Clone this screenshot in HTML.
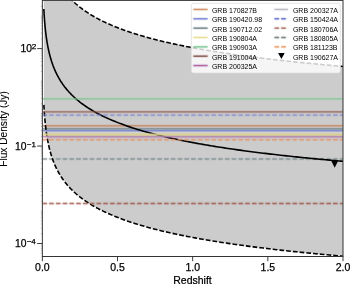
<!DOCTYPE html>
<html><head><meta charset="utf-8"><style>
html,body{margin:0;padding:0;background:#fff;overflow:hidden;}
svg{display:block;font-family:"Liberation Sans",sans-serif;will-change:transform;} text{stroke:#000;stroke-width:0.25px;}
</style></head><body>
<svg width="350" height="284" viewBox="0 0 350 284">
<defs><filter id="bl" filterUnits="userSpaceOnUse" x="0" y="0" width="350" height="284"><feConvolveMatrix order="3" kernelMatrix="0.0192 0.1001 0.0192 0.1001 0.5228 0.1001 0.0192 0.1001 0.0192" edgeMode="none"/></filter><clipPath id="ax"><rect x="42.35" y="0.40" width="300.65" height="256.10"/></clipPath></defs>
<rect width="350" height="284" fill="#fff"/>
<g clip-path="url(#ax)">
<path d="M43.82,-85.83 L43.84,-85.29 L43.87,-84.76 L43.90,-84.22 L43.93,-83.68 L43.96,-83.14 L43.99,-82.61 L44.02,-82.07 L44.06,-81.53 L44.09,-80.99 L44.12,-80.45 L44.16,-79.92 L44.19,-79.38 L44.23,-78.84 L44.26,-78.30 L44.30,-77.76 L44.34,-77.23 L44.37,-76.69 L44.41,-76.15 L44.45,-75.61 L44.49,-75.07 L44.53,-74.53 L44.58,-74.00 L44.62,-73.46 L44.66,-72.92 L44.71,-72.38 L44.75,-71.84 L44.80,-71.30 L44.85,-70.76 L44.89,-70.23 L44.94,-69.69 L44.99,-69.15 L45.04,-68.61 L45.09,-68.07 L45.15,-67.53 L45.20,-66.99 L45.25,-66.45 L45.31,-65.91 L45.37,-65.38 L45.43,-64.84 L45.48,-64.30 L45.54,-63.76 L45.61,-63.22 L45.67,-62.68 L45.73,-62.14 L45.80,-61.60 L45.86,-61.06 L45.93,-60.52 L46.00,-59.98 L46.07,-59.44 L46.14,-58.90 L46.21,-58.36 L46.29,-57.82 L46.36,-57.28 L46.44,-56.74 L46.52,-56.20 L46.60,-55.66 L46.68,-55.12 L46.76,-54.58 L46.85,-54.04 L46.93,-53.50 L47.02,-52.96 L47.11,-52.42 L47.20,-51.88 L47.29,-51.33 L47.39,-50.79 L47.49,-50.25 L47.58,-49.71 L47.69,-49.17 L47.79,-48.63 L47.89,-48.09 L48.00,-47.54 L48.11,-47.00 L48.22,-46.46 L48.33,-45.92 L48.44,-45.38 L48.56,-44.84 L48.68,-44.29 L48.80,-43.75 L48.93,-43.21 L49.05,-42.67 L49.18,-42.12 L49.31,-41.58 L49.44,-41.04 L49.58,-40.49 L49.72,-39.95 L49.86,-39.41 L50.00,-38.86 L50.15,-38.32 L50.30,-37.78 L50.45,-37.23 L50.61,-36.69 L50.77,-36.15 L50.93,-35.60 L51.09,-35.06 L51.26,-34.51 L51.43,-33.97 L51.61,-33.42 L51.78,-32.88 L51.97,-32.33 L52.15,-31.79 L52.34,-31.24 L52.53,-30.70 L52.72,-30.15 L52.92,-29.61 L53.13,-29.06 L53.33,-28.51 L53.54,-27.97 L53.76,-27.42 L53.98,-26.88 L54.20,-26.33 L54.43,-25.78 L54.66,-25.23 L54.90,-24.69 L55.14,-24.14 L55.38,-23.59 L55.63,-23.05 L55.89,-22.50 L56.15,-21.95 L56.41,-21.40 L56.68,-20.85 L56.95,-20.30 L57.23,-19.76 L57.52,-19.21 L57.81,-18.66 L58.11,-18.11 L58.41,-17.56 L58.72,-17.01 L59.03,-16.46 L59.35,-15.91 L59.68,-15.36 L60.01,-14.81 L60.35,-14.26 L60.69,-13.71 L61.05,-13.15 L61.41,-12.60 L61.77,-12.05 L62.14,-11.50 L62.52,-10.95 L62.91,-10.40 L63.30,-9.84 L63.71,-9.29 L64.12,-8.74 L64.53,-8.19 L64.96,-7.63 L65.39,-7.08 L65.83,-6.53 L66.29,-5.97 L66.74,-5.42 L67.21,-4.86 L67.69,-4.31 L68.18,-3.75 L68.67,-3.20 L69.18,-2.64 L69.69,-2.09 L70.21,-1.53 L70.75,-0.98 L71.29,-0.42 L71.85,0.13 L72.41,0.69 L74.36,2.53 L76.31,4.26 L78.25,5.90 L80.20,7.45 L82.15,8.92 L84.09,10.33 L86.04,11.67 L87.99,12.95 L89.93,14.19 L91.88,15.37 L93.83,16.50 L95.77,17.60 L97.72,18.65 L99.67,19.67 L101.61,20.66 L103.56,21.61 L105.51,22.53 L107.45,23.43 L109.40,24.30 L111.35,25.14 L113.29,25.96 L115.24,26.75 L117.19,27.53 L119.13,28.28 L121.08,29.02 L123.03,29.74 L124.97,30.43 L126.92,31.12 L128.87,31.78 L130.81,32.43 L132.76,33.07 L134.71,33.69 L136.65,34.30 L138.60,34.90 L140.55,35.48 L142.49,36.05 L144.44,36.61 L146.39,37.16 L148.33,37.70 L150.28,38.23 L152.23,38.74 L154.17,39.25 L156.12,39.75 L158.07,40.24 L160.01,40.72 L161.96,41.19 L163.91,41.66 L165.85,42.11 L167.80,42.56 L169.75,43.00 L171.69,43.44 L173.64,43.86 L175.59,44.28 L177.53,44.70 L179.48,45.11 L181.43,45.51 L183.37,45.90 L185.32,46.29 L187.27,46.67 L189.21,47.05 L191.16,47.42 L193.11,47.79 L195.05,48.15 L197.00,48.51 L198.95,48.86 L200.89,49.21 L202.84,49.55 L204.79,49.89 L206.73,50.22 L208.68,50.55 L210.63,50.87 L212.57,51.19 L214.52,51.51 L216.47,51.82 L218.41,52.13 L220.36,52.43 L222.31,52.74 L224.25,53.03 L226.20,53.33 L228.15,53.62 L230.09,53.90 L232.04,54.19 L233.99,54.47 L235.93,54.75 L237.88,55.02 L239.83,55.29 L241.77,55.56 L243.72,55.82 L245.67,56.09 L247.61,56.34 L249.56,56.60 L251.51,56.85 L253.45,57.11 L255.40,57.35 L257.35,57.60 L259.29,57.84 L261.24,58.08 L263.19,58.32 L265.13,58.56 L267.08,58.79 L269.03,59.02 L270.97,59.25 L272.92,59.48 L274.87,59.71 L276.81,59.93 L278.76,60.15 L280.71,60.37 L282.65,60.58 L284.60,60.80 L286.55,61.01 L288.49,61.22 L290.44,61.43 L292.39,61.64 L294.33,61.84 L296.28,62.05 L298.23,62.25 L300.17,62.45 L302.12,62.64 L304.07,62.84 L306.01,63.03 L307.96,63.23 L309.91,63.42 L311.85,63.61 L313.80,63.80 L315.75,63.98 L317.69,64.17 L319.64,64.35 L321.59,64.53 L323.53,64.71 L325.48,64.89 L327.43,65.07 L329.37,65.25 L331.32,65.42 L333.27,65.60 L335.21,65.77 L337.16,65.94 L339.11,66.11 L341.05,66.28 L343.00,66.44 L343.00,256.19 L341.05,256.02 L339.11,255.86 L337.16,255.69 L335.21,255.52 L333.27,255.34 L331.32,255.17 L329.37,255.00 L327.43,254.82 L325.48,254.64 L323.53,254.46 L321.59,254.28 L319.64,254.10 L317.69,253.92 L315.75,253.73 L313.80,253.54 L311.85,253.36 L309.91,253.17 L307.96,252.98 L306.01,252.78 L304.07,252.59 L302.12,252.39 L300.17,252.19 L298.23,251.99 L296.28,251.79 L294.33,251.59 L292.39,251.39 L290.44,251.18 L288.49,250.97 L286.55,250.76 L284.60,250.55 L282.65,250.33 L280.71,250.12 L278.76,249.90 L276.81,249.68 L274.87,249.45 L272.92,249.23 L270.97,249.00 L269.03,248.77 L267.08,248.54 L265.13,248.31 L263.19,248.07 L261.24,247.83 L259.29,247.59 L257.35,247.35 L255.40,247.10 L253.45,246.85 L251.51,246.60 L249.56,246.35 L247.61,246.09 L245.67,245.83 L243.72,245.57 L241.77,245.31 L239.83,245.04 L237.88,244.77 L235.93,244.49 L233.99,244.22 L232.04,243.94 L230.09,243.65 L228.15,243.37 L226.20,243.07 L224.25,242.78 L222.31,242.48 L220.36,242.18 L218.41,241.88 L216.47,241.57 L214.52,241.26 L212.57,240.94 L210.63,240.62 L208.68,240.30 L206.73,239.97 L204.79,239.63 L202.84,239.30 L200.89,238.95 L198.95,238.61 L197.00,238.26 L195.05,237.90 L193.11,237.54 L191.16,237.17 L189.21,236.80 L187.27,236.42 L185.32,236.04 L183.37,235.65 L181.43,235.25 L179.48,234.85 L177.53,234.45 L175.59,234.03 L173.64,233.61 L171.69,233.19 L169.75,232.75 L167.80,232.31 L165.85,231.86 L163.91,231.41 L161.96,230.94 L160.01,230.47 L158.07,229.99 L156.12,229.50 L154.17,229.00 L152.23,228.49 L150.28,227.97 L148.33,227.45 L146.39,226.91 L144.44,226.36 L142.49,225.80 L140.55,225.23 L138.60,224.65 L136.65,224.05 L134.71,223.44 L132.76,222.82 L130.81,222.18 L128.87,221.53 L126.92,220.87 L124.97,220.18 L123.03,219.48 L121.08,218.77 L119.13,218.03 L117.19,217.28 L115.24,216.50 L113.29,215.71 L111.35,214.89 L109.40,214.04 L107.45,213.18 L105.51,212.28 L103.56,211.36 L101.61,210.41 L99.67,209.42 L97.72,208.40 L95.77,207.35 L93.83,206.25 L91.88,205.12 L89.93,203.93 L87.99,202.70 L86.04,201.42 L84.09,200.08 L82.15,198.67 L80.20,197.20 L78.25,195.65 L76.31,194.01 L74.36,192.28 L72.41,190.44 L71.85,189.88 L71.29,189.33 L70.75,188.77 L70.21,188.21 L69.69,187.66 L69.18,187.10 L68.67,186.55 L68.18,185.99 L67.69,185.44 L67.21,184.89 L66.74,184.33 L66.29,183.78 L65.83,183.22 L65.39,182.67 L64.96,182.12 L64.53,181.56 L64.12,181.01 L63.71,180.46 L63.30,179.90 L62.91,179.35 L62.52,178.80 L62.14,178.25 L61.77,177.70 L61.41,177.14 L61.05,176.59 L60.69,176.04 L60.35,175.49 L60.01,174.94 L59.68,174.39 L59.35,173.84 L59.03,173.29 L58.72,172.74 L58.41,172.19 L58.11,171.64 L57.81,171.09 L57.52,170.54 L57.23,169.99 L56.95,169.44 L56.68,168.90 L56.41,168.35 L56.15,167.80 L55.89,167.25 L55.63,166.70 L55.38,166.16 L55.14,165.61 L54.90,165.06 L54.66,164.51 L54.43,163.97 L54.20,163.42 L53.98,162.87 L53.76,162.33 L53.54,161.78 L53.33,161.23 L53.13,160.69 L52.92,160.14 L52.72,159.60 L52.53,159.05 L52.34,158.50 L52.15,157.96 L51.97,157.41 L51.78,156.87 L51.61,156.32 L51.43,155.78 L51.26,155.24 L51.09,154.69 L50.93,154.15 L50.77,153.60 L50.61,153.06 L50.45,152.51 L50.30,151.97 L50.15,151.43 L50.00,150.88 L49.86,150.34 L49.72,149.80 L49.58,149.25 L49.44,148.71 L49.31,148.17 L49.18,147.63 L49.05,147.08 L48.93,146.54 L48.80,146.00 L48.68,145.46 L48.56,144.91 L48.44,144.37 L48.33,143.83 L48.22,143.29 L48.11,142.75 L48.00,142.20 L47.89,141.66 L47.79,141.12 L47.69,140.58 L47.58,140.04 L47.49,139.50 L47.39,138.96 L47.29,138.41 L47.20,137.87 L47.11,137.33 L47.02,136.79 L46.93,136.25 L46.85,135.71 L46.76,135.17 L46.68,134.63 L46.60,134.09 L46.52,133.55 L46.44,133.01 L46.36,132.47 L46.29,131.93 L46.21,131.39 L46.14,130.85 L46.07,130.31 L46.00,129.77 L45.93,129.23 L45.86,128.69 L45.80,128.15 L45.73,127.61 L45.67,127.07 L45.61,126.53 L45.54,125.99 L45.48,125.45 L45.43,124.91 L45.37,124.37 L45.31,123.83 L45.25,123.29 L45.20,122.76 L45.15,122.22 L45.09,121.68 L45.04,121.14 L44.99,120.60 L44.94,120.06 L44.89,119.52 L44.85,118.98 L44.80,118.44 L44.75,117.91 L44.71,117.37 L44.66,116.83 L44.62,116.29 L44.58,115.75 L44.53,115.21 L44.49,114.68 L44.45,114.14 L44.41,113.60 L44.37,113.06 L44.34,112.52 L44.30,111.98 L44.26,111.45 L44.23,110.91 L44.19,110.37 L44.16,109.83 L44.12,109.29 L44.09,108.76 L44.06,108.22 L44.02,107.68 L43.99,107.14 L43.96,106.60 L43.93,106.07 L43.90,105.53 L43.87,104.99 L43.84,104.45 L43.82,103.92 Z" fill="#cccccc"/>
<g filter="url(#bl)">
<line x1="42.35" y1="125.70" x2="343.00" y2="125.70" stroke="#c6845e" stroke-width="1.40"/>
<line x1="42.35" y1="128.70" x2="343.00" y2="128.70" stroke="#74898e" stroke-width="1.40"/>
<line x1="42.35" y1="130.80" x2="343.00" y2="130.80" stroke="#7882d0" stroke-width="1.40"/>
<line x1="42.35" y1="132.60" x2="343.00" y2="132.60" stroke="#d8d8dc" stroke-width="1.40"/>
<line x1="42.35" y1="159.00" x2="343.00" y2="159.00" stroke="#7e8c8e" stroke-width="1.40" stroke-dasharray="4.72 2.04"/>
</g>
<path d="M43.82,9.01 L43.84,9.55 L43.87,10.09 L43.90,10.63 L43.93,11.16 L43.96,11.70 L43.99,12.24 L44.02,12.78 L44.06,13.31 L44.09,13.85 L44.12,14.39 L44.16,14.93 L44.19,15.47 L44.23,16.00 L44.26,16.54 L44.30,17.08 L44.34,17.62 L44.37,18.16 L44.41,18.70 L44.45,19.23 L44.49,19.77 L44.53,20.31 L44.58,20.85 L44.62,21.39 L44.66,21.93 L44.71,22.46 L44.75,23.00 L44.80,23.54 L44.85,24.08 L44.89,24.62 L44.94,25.16 L44.99,25.70 L45.04,26.24 L45.09,26.77 L45.15,27.31 L45.20,27.85 L45.25,28.39 L45.31,28.93 L45.37,29.47 L45.43,30.01 L45.48,30.55 L45.54,31.09 L45.61,31.63 L45.67,32.17 L45.73,32.71 L45.80,33.25 L45.86,33.78 L45.93,34.32 L46.00,34.86 L46.07,35.40 L46.14,35.94 L46.21,36.48 L46.29,37.02 L46.36,37.56 L46.44,38.10 L46.52,38.64 L46.60,39.18 L46.68,39.73 L46.76,40.27 L46.85,40.81 L46.93,41.35 L47.02,41.89 L47.11,42.43 L47.20,42.97 L47.29,43.51 L47.39,44.05 L47.49,44.59 L47.58,45.13 L47.69,45.68 L47.79,46.22 L47.89,46.76 L48.00,47.30 L48.11,47.84 L48.22,48.38 L48.33,48.93 L48.44,49.47 L48.56,50.01 L48.68,50.55 L48.80,51.09 L48.93,51.64 L49.05,52.18 L49.18,52.72 L49.31,53.26 L49.44,53.81 L49.58,54.35 L49.72,54.89 L49.86,55.44 L50.00,55.98 L50.15,56.52 L50.30,57.07 L50.45,57.61 L50.61,58.16 L50.77,58.70 L50.93,59.24 L51.09,59.79 L51.26,60.33 L51.43,60.88 L51.61,61.42 L51.78,61.97 L51.97,62.51 L52.15,63.06 L52.34,63.60 L52.53,64.15 L52.72,64.69 L52.92,65.24 L53.13,65.78 L53.33,66.33 L53.54,66.88 L53.76,67.42 L53.98,67.97 L54.20,68.52 L54.43,69.06 L54.66,69.61 L54.90,70.16 L55.14,70.70 L55.38,71.25 L55.63,71.80 L55.89,72.35 L56.15,72.90 L56.41,73.44 L56.68,73.99 L56.95,74.54 L57.23,75.09 L57.52,75.64 L57.81,76.19 L58.11,76.74 L58.41,77.29 L58.72,77.84 L59.03,78.39 L59.35,78.94 L59.68,79.49 L60.01,80.04 L60.35,80.59 L60.69,81.14 L61.05,81.69 L61.41,82.24 L61.77,82.79 L62.14,83.34 L62.52,83.90 L62.91,84.45 L63.30,85.00 L63.71,85.55 L64.12,86.11 L64.53,86.66 L64.96,87.21 L65.39,87.77 L65.83,88.32 L66.29,88.87 L66.74,89.43 L67.21,89.98 L67.69,90.54 L68.18,91.09 L68.67,91.65 L69.18,92.20 L69.69,92.76 L70.21,93.31 L70.75,93.87 L71.29,94.42 L71.85,94.98 L72.41,95.54 L74.36,97.37 L76.31,99.11 L78.25,100.74 L80.20,102.29 L82.15,103.77 L84.09,105.17 L86.04,106.52 L87.99,107.80 L89.93,109.03 L91.88,110.21 L93.83,111.35 L95.77,112.44 L97.72,113.50 L99.67,114.52 L101.61,115.50 L103.56,116.46 L105.51,117.38 L107.45,118.27 L109.40,119.14 L111.35,119.98 L113.29,120.80 L115.24,121.60 L117.19,122.37 L119.13,123.13 L121.08,123.86 L123.03,124.58 L124.97,125.28 L126.92,125.96 L128.87,126.63 L130.81,127.28 L132.76,127.92 L134.71,128.54 L136.65,129.15 L138.60,129.74 L140.55,130.33 L142.49,130.90 L144.44,131.46 L146.39,132.01 L148.33,132.54 L150.28,133.07 L152.23,133.59 L154.17,134.10 L156.12,134.60 L158.07,135.08 L160.01,135.57 L161.96,136.04 L163.91,136.50 L165.85,136.96 L167.80,137.41 L169.75,137.85 L171.69,138.28 L173.64,138.71 L175.59,139.13 L177.53,139.54 L179.48,139.95 L181.43,140.35 L183.37,140.75 L185.32,141.13 L187.27,141.52 L189.21,141.90 L191.16,142.27 L193.11,142.63 L195.05,143.00 L197.00,143.35 L198.95,143.70 L200.89,144.05 L202.84,144.39 L204.79,144.73 L206.73,145.06 L208.68,145.39 L210.63,145.72 L212.57,146.04 L214.52,146.35 L216.47,146.67 L218.41,146.97 L220.36,147.28 L222.31,147.58 L224.25,147.88 L226.20,148.17 L228.15,148.46 L230.09,148.75 L232.04,149.03 L233.99,149.31 L235.93,149.59 L237.88,149.86 L239.83,150.13 L241.77,150.40 L243.72,150.67 L245.67,150.93 L247.61,151.19 L249.56,151.45 L251.51,151.70 L253.45,151.95 L255.40,152.20 L257.35,152.45 L259.29,152.69 L261.24,152.93 L263.19,153.17 L265.13,153.40 L267.08,153.64 L269.03,153.87 L270.97,154.10 L272.92,154.33 L274.87,154.55 L276.81,154.77 L278.76,154.99 L280.71,155.21 L282.65,155.43 L284.60,155.64 L286.55,155.86 L288.49,156.07 L290.44,156.28 L292.39,156.48 L294.33,156.69 L296.28,156.89 L298.23,157.09 L300.17,157.29 L302.12,157.49 L304.07,157.69 L306.01,157.88 L307.96,158.07 L309.91,158.26 L311.85,158.45 L313.80,158.64 L315.75,158.83 L317.69,159.01 L319.64,159.20 L321.59,159.38 L323.53,159.56 L325.48,159.74 L327.43,159.92 L329.37,160.09 L331.32,160.27 L333.27,160.44 L335.21,160.61 L337.16,160.78 L339.11,160.95 L341.05,161.12 L343.00,161.29" fill="none" stroke="#000" stroke-width="1.6"/>
<path d="M43.82,-85.83 L43.84,-85.29 L43.87,-84.76 L43.90,-84.22 L43.93,-83.68 L43.96,-83.14 L43.99,-82.61 L44.02,-82.07 L44.06,-81.53 L44.09,-80.99 L44.12,-80.45 L44.16,-79.92 L44.19,-79.38 L44.23,-78.84 L44.26,-78.30 L44.30,-77.76 L44.34,-77.23 L44.37,-76.69 L44.41,-76.15 L44.45,-75.61 L44.49,-75.07 L44.53,-74.53 L44.58,-74.00 L44.62,-73.46 L44.66,-72.92 L44.71,-72.38 L44.75,-71.84 L44.80,-71.30 L44.85,-70.76 L44.89,-70.23 L44.94,-69.69 L44.99,-69.15 L45.04,-68.61 L45.09,-68.07 L45.15,-67.53 L45.20,-66.99 L45.25,-66.45 L45.31,-65.91 L45.37,-65.38 L45.43,-64.84 L45.48,-64.30 L45.54,-63.76 L45.61,-63.22 L45.67,-62.68 L45.73,-62.14 L45.80,-61.60 L45.86,-61.06 L45.93,-60.52 L46.00,-59.98 L46.07,-59.44 L46.14,-58.90 L46.21,-58.36 L46.29,-57.82 L46.36,-57.28 L46.44,-56.74 L46.52,-56.20 L46.60,-55.66 L46.68,-55.12 L46.76,-54.58 L46.85,-54.04 L46.93,-53.50 L47.02,-52.96 L47.11,-52.42 L47.20,-51.88 L47.29,-51.33 L47.39,-50.79 L47.49,-50.25 L47.58,-49.71 L47.69,-49.17 L47.79,-48.63 L47.89,-48.09 L48.00,-47.54 L48.11,-47.00 L48.22,-46.46 L48.33,-45.92 L48.44,-45.38 L48.56,-44.84 L48.68,-44.29 L48.80,-43.75 L48.93,-43.21 L49.05,-42.67 L49.18,-42.12 L49.31,-41.58 L49.44,-41.04 L49.58,-40.49 L49.72,-39.95 L49.86,-39.41 L50.00,-38.86 L50.15,-38.32 L50.30,-37.78 L50.45,-37.23 L50.61,-36.69 L50.77,-36.15 L50.93,-35.60 L51.09,-35.06 L51.26,-34.51 L51.43,-33.97 L51.61,-33.42 L51.78,-32.88 L51.97,-32.33 L52.15,-31.79 L52.34,-31.24 L52.53,-30.70 L52.72,-30.15 L52.92,-29.61 L53.13,-29.06 L53.33,-28.51 L53.54,-27.97 L53.76,-27.42 L53.98,-26.88 L54.20,-26.33 L54.43,-25.78 L54.66,-25.23 L54.90,-24.69 L55.14,-24.14 L55.38,-23.59 L55.63,-23.05 L55.89,-22.50 L56.15,-21.95 L56.41,-21.40 L56.68,-20.85 L56.95,-20.30 L57.23,-19.76 L57.52,-19.21 L57.81,-18.66 L58.11,-18.11 L58.41,-17.56 L58.72,-17.01 L59.03,-16.46 L59.35,-15.91 L59.68,-15.36 L60.01,-14.81 L60.35,-14.26 L60.69,-13.71 L61.05,-13.15 L61.41,-12.60 L61.77,-12.05 L62.14,-11.50 L62.52,-10.95 L62.91,-10.40 L63.30,-9.84 L63.71,-9.29 L64.12,-8.74 L64.53,-8.19 L64.96,-7.63 L65.39,-7.08 L65.83,-6.53 L66.29,-5.97 L66.74,-5.42 L67.21,-4.86 L67.69,-4.31 L68.18,-3.75 L68.67,-3.20 L69.18,-2.64 L69.69,-2.09 L70.21,-1.53 L70.75,-0.98 L71.29,-0.42 L71.85,0.13 L72.41,0.69 L74.36,2.53 L76.31,4.26 L78.25,5.90 L80.20,7.45 L82.15,8.92 L84.09,10.33 L86.04,11.67 L87.99,12.95 L89.93,14.19 L91.88,15.37 L93.83,16.50 L95.77,17.60 L97.72,18.65 L99.67,19.67 L101.61,20.66 L103.56,21.61 L105.51,22.53 L107.45,23.43 L109.40,24.30 L111.35,25.14 L113.29,25.96 L115.24,26.75 L117.19,27.53 L119.13,28.28 L121.08,29.02 L123.03,29.74 L124.97,30.43 L126.92,31.12 L128.87,31.78 L130.81,32.43 L132.76,33.07 L134.71,33.69 L136.65,34.30 L138.60,34.90 L140.55,35.48 L142.49,36.05 L144.44,36.61 L146.39,37.16 L148.33,37.70 L150.28,38.23 L152.23,38.74 L154.17,39.25 L156.12,39.75 L158.07,40.24 L160.01,40.72 L161.96,41.19 L163.91,41.66 L165.85,42.11 L167.80,42.56 L169.75,43.00 L171.69,43.44 L173.64,43.86 L175.59,44.28 L177.53,44.70 L179.48,45.11 L181.43,45.51 L183.37,45.90 L185.32,46.29 L187.27,46.67 L189.21,47.05 L191.16,47.42 L193.11,47.79 L195.05,48.15 L197.00,48.51 L198.95,48.86 L200.89,49.21 L202.84,49.55 L204.79,49.89 L206.73,50.22 L208.68,50.55 L210.63,50.87 L212.57,51.19 L214.52,51.51 L216.47,51.82 L218.41,52.13 L220.36,52.43 L222.31,52.74 L224.25,53.03 L226.20,53.33 L228.15,53.62 L230.09,53.90 L232.04,54.19 L233.99,54.47 L235.93,54.75 L237.88,55.02 L239.83,55.29 L241.77,55.56 L243.72,55.82 L245.67,56.09 L247.61,56.34 L249.56,56.60 L251.51,56.85 L253.45,57.11 L255.40,57.35 L257.35,57.60 L259.29,57.84 L261.24,58.08 L263.19,58.32 L265.13,58.56 L267.08,58.79 L269.03,59.02 L270.97,59.25 L272.92,59.48 L274.87,59.71 L276.81,59.93 L278.76,60.15 L280.71,60.37 L282.65,60.58 L284.60,60.80 L286.55,61.01 L288.49,61.22 L290.44,61.43 L292.39,61.64 L294.33,61.84 L296.28,62.05 L298.23,62.25 L300.17,62.45 L302.12,62.64 L304.07,62.84 L306.01,63.03 L307.96,63.23 L309.91,63.42 L311.85,63.61 L313.80,63.80 L315.75,63.98 L317.69,64.17 L319.64,64.35 L321.59,64.53 L323.53,64.71 L325.48,64.89 L327.43,65.07 L329.37,65.25 L331.32,65.42 L333.27,65.60 L335.21,65.77 L337.16,65.94 L339.11,66.11 L341.05,66.28 L343.00,66.44" fill="none" stroke="#000" stroke-width="1.6" stroke-dasharray="4.72 2.04" stroke-dashoffset="-1.3"/>
<path d="M43.82,103.92 L43.84,104.45 L43.87,104.99 L43.90,105.53 L43.93,106.07 L43.96,106.60 L43.99,107.14 L44.02,107.68 L44.06,108.22 L44.09,108.76 L44.12,109.29 L44.16,109.83 L44.19,110.37 L44.23,110.91 L44.26,111.45 L44.30,111.98 L44.34,112.52 L44.37,113.06 L44.41,113.60 L44.45,114.14 L44.49,114.68 L44.53,115.21 L44.58,115.75 L44.62,116.29 L44.66,116.83 L44.71,117.37 L44.75,117.91 L44.80,118.44 L44.85,118.98 L44.89,119.52 L44.94,120.06 L44.99,120.60 L45.04,121.14 L45.09,121.68 L45.15,122.22 L45.20,122.76 L45.25,123.29 L45.31,123.83 L45.37,124.37 L45.43,124.91 L45.48,125.45 L45.54,125.99 L45.61,126.53 L45.67,127.07 L45.73,127.61 L45.80,128.15 L45.86,128.69 L45.93,129.23 L46.00,129.77 L46.07,130.31 L46.14,130.85 L46.21,131.39 L46.29,131.93 L46.36,132.47 L46.44,133.01 L46.52,133.55 L46.60,134.09 L46.68,134.63 L46.76,135.17 L46.85,135.71 L46.93,136.25 L47.02,136.79 L47.11,137.33 L47.20,137.87 L47.29,138.41 L47.39,138.96 L47.49,139.50 L47.58,140.04 L47.69,140.58 L47.79,141.12 L47.89,141.66 L48.00,142.20 L48.11,142.75 L48.22,143.29 L48.33,143.83 L48.44,144.37 L48.56,144.91 L48.68,145.46 L48.80,146.00 L48.93,146.54 L49.05,147.08 L49.18,147.63 L49.31,148.17 L49.44,148.71 L49.58,149.25 L49.72,149.80 L49.86,150.34 L50.00,150.88 L50.15,151.43 L50.30,151.97 L50.45,152.51 L50.61,153.06 L50.77,153.60 L50.93,154.15 L51.09,154.69 L51.26,155.24 L51.43,155.78 L51.61,156.32 L51.78,156.87 L51.97,157.41 L52.15,157.96 L52.34,158.50 L52.53,159.05 L52.72,159.60 L52.92,160.14 L53.13,160.69 L53.33,161.23 L53.54,161.78 L53.76,162.33 L53.98,162.87 L54.20,163.42 L54.43,163.97 L54.66,164.51 L54.90,165.06 L55.14,165.61 L55.38,166.16 L55.63,166.70 L55.89,167.25 L56.15,167.80 L56.41,168.35 L56.68,168.90 L56.95,169.44 L57.23,169.99 L57.52,170.54 L57.81,171.09 L58.11,171.64 L58.41,172.19 L58.72,172.74 L59.03,173.29 L59.35,173.84 L59.68,174.39 L60.01,174.94 L60.35,175.49 L60.69,176.04 L61.05,176.59 L61.41,177.14 L61.77,177.70 L62.14,178.25 L62.52,178.80 L62.91,179.35 L63.30,179.90 L63.71,180.46 L64.12,181.01 L64.53,181.56 L64.96,182.12 L65.39,182.67 L65.83,183.22 L66.29,183.78 L66.74,184.33 L67.21,184.89 L67.69,185.44 L68.18,185.99 L68.67,186.55 L69.18,187.10 L69.69,187.66 L70.21,188.21 L70.75,188.77 L71.29,189.33 L71.85,189.88 L72.41,190.44 L74.36,192.28 L76.31,194.01 L78.25,195.65 L80.20,197.20 L82.15,198.67 L84.09,200.08 L86.04,201.42 L87.99,202.70 L89.93,203.93 L91.88,205.12 L93.83,206.25 L95.77,207.35 L97.72,208.40 L99.67,209.42 L101.61,210.41 L103.56,211.36 L105.51,212.28 L107.45,213.18 L109.40,214.04 L111.35,214.89 L113.29,215.71 L115.24,216.50 L117.19,217.28 L119.13,218.03 L121.08,218.77 L123.03,219.48 L124.97,220.18 L126.92,220.87 L128.87,221.53 L130.81,222.18 L132.76,222.82 L134.71,223.44 L136.65,224.05 L138.60,224.65 L140.55,225.23 L142.49,225.80 L144.44,226.36 L146.39,226.91 L148.33,227.45 L150.28,227.97 L152.23,228.49 L154.17,229.00 L156.12,229.50 L158.07,229.99 L160.01,230.47 L161.96,230.94 L163.91,231.41 L165.85,231.86 L167.80,232.31 L169.75,232.75 L171.69,233.19 L173.64,233.61 L175.59,234.03 L177.53,234.45 L179.48,234.85 L181.43,235.25 L183.37,235.65 L185.32,236.04 L187.27,236.42 L189.21,236.80 L191.16,237.17 L193.11,237.54 L195.05,237.90 L197.00,238.26 L198.95,238.61 L200.89,238.95 L202.84,239.30 L204.79,239.63 L206.73,239.97 L208.68,240.30 L210.63,240.62 L212.57,240.94 L214.52,241.26 L216.47,241.57 L218.41,241.88 L220.36,242.18 L222.31,242.48 L224.25,242.78 L226.20,243.07 L228.15,243.37 L230.09,243.65 L232.04,243.94 L233.99,244.22 L235.93,244.49 L237.88,244.77 L239.83,245.04 L241.77,245.31 L243.72,245.57 L245.67,245.83 L247.61,246.09 L249.56,246.35 L251.51,246.60 L253.45,246.85 L255.40,247.10 L257.35,247.35 L259.29,247.59 L261.24,247.83 L263.19,248.07 L265.13,248.31 L267.08,248.54 L269.03,248.77 L270.97,249.00 L272.92,249.23 L274.87,249.45 L276.81,249.68 L278.76,249.90 L280.71,250.12 L282.65,250.33 L284.60,250.55 L286.55,250.76 L288.49,250.97 L290.44,251.18 L292.39,251.39 L294.33,251.59 L296.28,251.79 L298.23,251.99 L300.17,252.19 L302.12,252.39 L304.07,252.59 L306.01,252.78 L307.96,252.98 L309.91,253.17 L311.85,253.36 L313.80,253.54 L315.75,253.73 L317.69,253.92 L319.64,254.10 L321.59,254.28 L323.53,254.46 L325.48,254.64 L327.43,254.82 L329.37,255.00 L331.32,255.17 L333.27,255.34 L335.21,255.52 L337.16,255.69 L339.11,255.86 L341.05,256.02 L343.00,256.19" fill="none" stroke="#000" stroke-width="1.6" stroke-dasharray="4.72 2.04" stroke-dashoffset="-1.0"/>
<g filter="url(#bl)">
<line x1="42.35" y1="98.90" x2="343.00" y2="98.90" stroke="#74c68e" stroke-width="1.40"/>
<line x1="42.35" y1="111.90" x2="343.00" y2="111.90" stroke="#8e5444" stroke-width="1.40"/>
<line x1="42.35" y1="115.10" x2="343.00" y2="115.10" stroke="#7880d0" stroke-width="1.40" stroke-dasharray="4.72 2.04"/>
<line x1="42.35" y1="134.50" x2="343.00" y2="134.50" stroke="#ded08a" stroke-width="2.00"/>
<line x1="42.35" y1="136.70" x2="343.00" y2="136.70" stroke="#b47aae" stroke-width="1.60"/>
<line x1="42.35" y1="139.80" x2="343.00" y2="139.80" stroke="#e2946a" stroke-width="1.40" stroke-dasharray="4.72 2.04"/>
<line x1="42.35" y1="203.45" x2="343.00" y2="203.45" stroke="#9c5244" stroke-width="1.40" stroke-dasharray="4.72 2.04"/>
</g>
<path d="M331.10,160.60 L338.30,160.60 L334.70,167.70 Z" fill="#000"/>
</g>
<rect x="191.35" y="3.4" width="148.95" height="69.6" rx="2" fill="#fff" fill-opacity="0.8" stroke="#dddddd" stroke-width="0.8"/>
<g filter="url(#bl)"><line x1="193.30" y1="9.45" x2="207.70" y2="9.45" stroke="#c47444" stroke-width="1.4"/>
<line x1="193.30" y1="18.80" x2="207.70" y2="18.80" stroke="#5c68cc" stroke-width="1.4"/>
<line x1="193.30" y1="28.15" x2="207.70" y2="28.15" stroke="#52686c" stroke-width="1.4"/>
<line x1="193.30" y1="37.50" x2="207.70" y2="37.50" stroke="#e2d67e" stroke-width="1.4"/>
<line x1="193.30" y1="46.85" x2="207.70" y2="46.85" stroke="#62bd80" stroke-width="1.4"/>
<line x1="193.30" y1="56.20" x2="207.70" y2="56.20" stroke="#6e3428" stroke-width="1.4"/>
<line x1="193.30" y1="65.55" x2="207.70" y2="65.55" stroke="#9c3c90" stroke-width="1.4"/>
<line x1="274.40" y1="9.45" x2="288.00" y2="9.45" stroke="#a8a8b4" stroke-width="1.4"/>
<line x1="274.40" y1="18.80" x2="288.00" y2="18.80" stroke="#4a58c4" stroke-width="1.4" stroke-dasharray="4.72 2.04"/>
<line x1="274.40" y1="28.15" x2="288.00" y2="28.15" stroke="#8a3a2c" stroke-width="1.4" stroke-dasharray="4.72 2.04"/>
<line x1="274.40" y1="37.50" x2="288.00" y2="37.50" stroke="#5a6868" stroke-width="1.4" stroke-dasharray="4.72 2.04"/>
<line x1="274.40" y1="46.85" x2="288.00" y2="46.85" stroke="#e8742e" stroke-width="1.4" stroke-dasharray="4.72 2.04"/>
</g>
<text x="211.90" y="12.95" font-size="7" style="stroke-width:0px">GRB 170827B</text>
<text x="211.90" y="22.30" font-size="7" style="stroke-width:0px">GRB 190420.98</text>
<text x="211.90" y="31.65" font-size="7" style="stroke-width:0px">GRB 190712.02</text>
<text x="211.90" y="41.00" font-size="7" style="stroke-width:0px">GRB 190804A</text>
<text x="211.90" y="50.35" font-size="7" style="stroke-width:0px">GRB 190903A</text>
<text x="211.90" y="59.70" font-size="7" style="stroke-width:0px">GRB 191004A</text>
<text x="211.90" y="69.05" font-size="7" style="stroke-width:0px">GRB 200325A</text>
<text x="292.90" y="12.95" font-size="7" style="stroke-width:0px">GRB 200327A</text>
<text x="292.90" y="22.30" font-size="7" style="stroke-width:0px">GRB 150424A</text>
<text x="292.90" y="31.65" font-size="7" style="stroke-width:0px">GRB 180706A</text>
<text x="292.90" y="41.00" font-size="7" style="stroke-width:0px">GRB 180805A</text>
<text x="292.90" y="50.35" font-size="7" style="stroke-width:0px">GRB 181123B</text>
<path d="M278.10,53.00 L284.70,53.00 L281.40,59.00 Z" fill="#000"/>
<text x="292.90" y="59.70" font-size="7" style="stroke-width:0px">GRB 190627A</text>

<rect x="42.35" y="0.40" width="300.65" height="256.10" fill="none" stroke="#333" stroke-width="1"/>
<line x1="42.35" y1="256.50" x2="42.35" y2="261.20" stroke="#333" stroke-width="0.95"/>
<line x1="117.51" y1="256.50" x2="117.51" y2="261.20" stroke="#333" stroke-width="0.95"/>
<line x1="192.67" y1="256.50" x2="192.67" y2="261.20" stroke="#333" stroke-width="0.95"/>
<line x1="267.84" y1="256.50" x2="267.84" y2="261.20" stroke="#333" stroke-width="0.95"/>
<line x1="343.00" y1="256.50" x2="343.00" y2="261.20" stroke="#333" stroke-width="0.95"/>
<line x1="37.15" y1="48.60" x2="42.35" y2="48.60" stroke="#333" stroke-width="0.95"/>
<line x1="37.15" y1="146.05" x2="42.35" y2="146.05" stroke="#333" stroke-width="0.95"/>
<line x1="37.15" y1="243.50" x2="42.35" y2="243.50" stroke="#333" stroke-width="0.95"/>
<line x1="40.85" y1="253.28" x2="42.35" y2="253.28" stroke="#777" stroke-width="0.5"/>
<line x1="40.85" y1="250.71" x2="42.35" y2="250.71" stroke="#777" stroke-width="0.5"/>
<line x1="40.85" y1="248.53" x2="42.35" y2="248.53" stroke="#777" stroke-width="0.5"/>
<line x1="40.85" y1="246.65" x2="42.35" y2="246.65" stroke="#777" stroke-width="0.5"/>
<line x1="40.85" y1="244.99" x2="42.35" y2="244.99" stroke="#777" stroke-width="0.5"/>
<line x1="40.85" y1="233.72" x2="42.35" y2="233.72" stroke="#777" stroke-width="0.5"/>
<line x1="40.85" y1="228.00" x2="42.35" y2="228.00" stroke="#777" stroke-width="0.5"/>
<line x1="40.85" y1="223.94" x2="42.35" y2="223.94" stroke="#777" stroke-width="0.5"/>
<line x1="40.85" y1="220.80" x2="42.35" y2="220.80" stroke="#777" stroke-width="0.5"/>
<line x1="40.85" y1="218.22" x2="42.35" y2="218.22" stroke="#777" stroke-width="0.5"/>
<line x1="40.85" y1="216.05" x2="42.35" y2="216.05" stroke="#777" stroke-width="0.5"/>
<line x1="40.85" y1="214.16" x2="42.35" y2="214.16" stroke="#777" stroke-width="0.5"/>
<line x1="40.85" y1="212.50" x2="42.35" y2="212.50" stroke="#777" stroke-width="0.5"/>
<line x1="40.85" y1="211.02" x2="42.35" y2="211.02" stroke="#777" stroke-width="0.5"/>
<line x1="40.85" y1="201.24" x2="42.35" y2="201.24" stroke="#777" stroke-width="0.5"/>
<line x1="40.85" y1="195.52" x2="42.35" y2="195.52" stroke="#777" stroke-width="0.5"/>
<line x1="40.85" y1="191.46" x2="42.35" y2="191.46" stroke="#777" stroke-width="0.5"/>
<line x1="40.85" y1="188.31" x2="42.35" y2="188.31" stroke="#777" stroke-width="0.5"/>
<line x1="40.85" y1="185.74" x2="42.35" y2="185.74" stroke="#777" stroke-width="0.5"/>
<line x1="40.85" y1="183.57" x2="42.35" y2="183.57" stroke="#777" stroke-width="0.5"/>
<line x1="40.85" y1="181.68" x2="42.35" y2="181.68" stroke="#777" stroke-width="0.5"/>
<line x1="40.85" y1="180.02" x2="42.35" y2="180.02" stroke="#777" stroke-width="0.5"/>
<line x1="40.85" y1="178.53" x2="42.35" y2="178.53" stroke="#777" stroke-width="0.5"/>
<line x1="40.85" y1="168.75" x2="42.35" y2="168.75" stroke="#777" stroke-width="0.5"/>
<line x1="40.85" y1="163.03" x2="42.35" y2="163.03" stroke="#777" stroke-width="0.5"/>
<line x1="40.85" y1="158.98" x2="42.35" y2="158.98" stroke="#777" stroke-width="0.5"/>
<line x1="40.85" y1="155.83" x2="42.35" y2="155.83" stroke="#777" stroke-width="0.5"/>
<line x1="40.85" y1="153.26" x2="42.35" y2="153.26" stroke="#777" stroke-width="0.5"/>
<line x1="40.85" y1="151.08" x2="42.35" y2="151.08" stroke="#777" stroke-width="0.5"/>
<line x1="40.85" y1="149.20" x2="42.35" y2="149.20" stroke="#777" stroke-width="0.5"/>
<line x1="40.85" y1="147.54" x2="42.35" y2="147.54" stroke="#777" stroke-width="0.5"/>
<line x1="40.85" y1="136.27" x2="42.35" y2="136.27" stroke="#777" stroke-width="0.5"/>
<line x1="40.85" y1="130.55" x2="42.35" y2="130.55" stroke="#777" stroke-width="0.5"/>
<line x1="40.85" y1="126.49" x2="42.35" y2="126.49" stroke="#777" stroke-width="0.5"/>
<line x1="40.85" y1="123.35" x2="42.35" y2="123.35" stroke="#777" stroke-width="0.5"/>
<line x1="40.85" y1="120.77" x2="42.35" y2="120.77" stroke="#777" stroke-width="0.5"/>
<line x1="40.85" y1="118.60" x2="42.35" y2="118.60" stroke="#777" stroke-width="0.5"/>
<line x1="40.85" y1="116.71" x2="42.35" y2="116.71" stroke="#777" stroke-width="0.5"/>
<line x1="40.85" y1="115.05" x2="42.35" y2="115.05" stroke="#777" stroke-width="0.5"/>
<line x1="40.85" y1="113.57" x2="42.35" y2="113.57" stroke="#777" stroke-width="0.5"/>
<line x1="40.85" y1="103.79" x2="42.35" y2="103.79" stroke="#777" stroke-width="0.5"/>
<line x1="40.85" y1="98.07" x2="42.35" y2="98.07" stroke="#777" stroke-width="0.5"/>
<line x1="40.85" y1="94.01" x2="42.35" y2="94.01" stroke="#777" stroke-width="0.5"/>
<line x1="40.85" y1="90.86" x2="42.35" y2="90.86" stroke="#777" stroke-width="0.5"/>
<line x1="40.85" y1="88.29" x2="42.35" y2="88.29" stroke="#777" stroke-width="0.5"/>
<line x1="40.85" y1="86.12" x2="42.35" y2="86.12" stroke="#777" stroke-width="0.5"/>
<line x1="40.85" y1="84.23" x2="42.35" y2="84.23" stroke="#777" stroke-width="0.5"/>
<line x1="40.85" y1="82.57" x2="42.35" y2="82.57" stroke="#777" stroke-width="0.5"/>
<line x1="40.85" y1="81.08" x2="42.35" y2="81.08" stroke="#777" stroke-width="0.5"/>
<line x1="40.85" y1="71.30" x2="42.35" y2="71.30" stroke="#777" stroke-width="0.5"/>
<line x1="40.85" y1="65.58" x2="42.35" y2="65.58" stroke="#777" stroke-width="0.5"/>
<line x1="40.85" y1="61.53" x2="42.35" y2="61.53" stroke="#777" stroke-width="0.5"/>
<line x1="40.85" y1="58.38" x2="42.35" y2="58.38" stroke="#777" stroke-width="0.5"/>
<line x1="40.85" y1="55.81" x2="42.35" y2="55.81" stroke="#777" stroke-width="0.5"/>
<line x1="40.85" y1="53.63" x2="42.35" y2="53.63" stroke="#777" stroke-width="0.5"/>
<line x1="40.85" y1="51.75" x2="42.35" y2="51.75" stroke="#777" stroke-width="0.5"/>
<line x1="40.85" y1="50.09" x2="42.35" y2="50.09" stroke="#777" stroke-width="0.5"/>
<line x1="40.85" y1="38.82" x2="42.35" y2="38.82" stroke="#777" stroke-width="0.5"/>
<line x1="40.85" y1="33.10" x2="42.35" y2="33.10" stroke="#777" stroke-width="0.5"/>
<line x1="40.85" y1="29.04" x2="42.35" y2="29.04" stroke="#777" stroke-width="0.5"/>
<line x1="40.85" y1="25.90" x2="42.35" y2="25.90" stroke="#777" stroke-width="0.5"/>
<line x1="40.85" y1="23.32" x2="42.35" y2="23.32" stroke="#777" stroke-width="0.5"/>
<line x1="40.85" y1="21.15" x2="42.35" y2="21.15" stroke="#777" stroke-width="0.5"/>
<line x1="40.85" y1="19.26" x2="42.35" y2="19.26" stroke="#777" stroke-width="0.5"/>
<line x1="40.85" y1="17.60" x2="42.35" y2="17.60" stroke="#777" stroke-width="0.5"/>
<line x1="40.85" y1="16.12" x2="42.35" y2="16.12" stroke="#777" stroke-width="0.5"/>
<line x1="40.85" y1="6.34" x2="42.35" y2="6.34" stroke="#777" stroke-width="0.5"/>

<text x="35.10" y="270.60" font-size="10.20" textLength="14.60" lengthAdjust="spacingAndGlyphs">0.0</text>
<text x="110.26" y="270.60" font-size="10.20" textLength="14.60" lengthAdjust="spacingAndGlyphs">0.5</text>
<text x="185.42" y="270.60" font-size="10.20" textLength="14.60" lengthAdjust="spacingAndGlyphs">1.0</text>
<text x="260.59" y="270.60" font-size="10.20" textLength="14.60" lengthAdjust="spacingAndGlyphs">1.5</text>
<text x="335.75" y="270.60" font-size="10.20" textLength="14.60" lengthAdjust="spacingAndGlyphs">2.0</text>
<text x="20.50" y="51.75" font-size="10.20" textLength="11.50" lengthAdjust="spacingAndGlyphs">10</text>
<text x="31.75" y="48.75" font-size="7.60" textLength="4.60" lengthAdjust="spacingAndGlyphs">2</text>
<text x="15.00" y="149.50" font-size="10.20" textLength="11.50" lengthAdjust="spacingAndGlyphs">10</text>
<text x="26.75" y="146.50" font-size="7.60" textLength="9.10" lengthAdjust="spacingAndGlyphs">−1</text>
<text x="15.00" y="247.20" font-size="10.20" textLength="11.50" lengthAdjust="spacingAndGlyphs">10</text>
<text x="26.75" y="243.60" font-size="7.60" textLength="9.00" lengthAdjust="spacingAndGlyphs">−4</text>
<text x="173.25" y="284.40" font-size="11.00" textLength="38.55" lengthAdjust="spacingAndGlyphs">Redshift</text>
<text transform="translate(7.2,166.8) rotate(-90)" style="stroke-width:0.1px" font-size="11" textLength="75.6" lengthAdjust="spacingAndGlyphs">Flux Density (Jy)</text>

</svg>
</body></html>
